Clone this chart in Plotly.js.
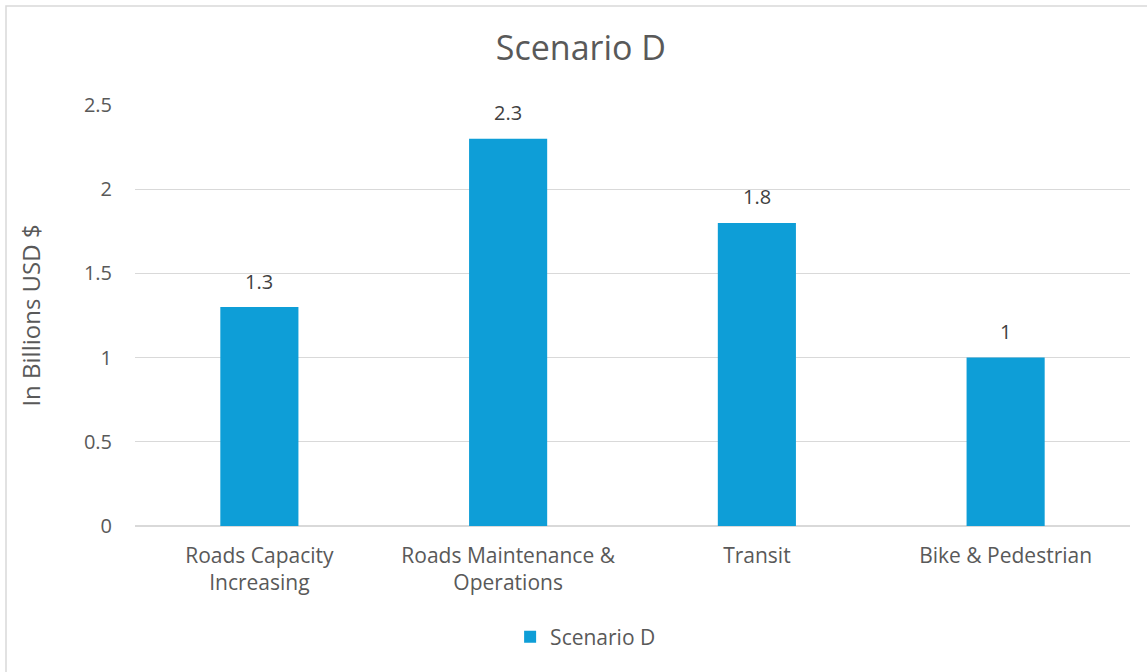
<!DOCTYPE html>
<html>
<head>
<meta charset="utf-8">
<script src="https://cdn.plot.ly/plotly-3.0.1.min.js"></script>
<style>html,body{margin:0;padding:0;background:#fff;}#chart{width:1147px;height:672px;}</style>
</head>
<body>
<div id="chart"></div>
<script>
const categories = ["Roads Capacity<br>Increasing", "Roads Maintenance &<br>Operations", "Transit", "Bike & Pedestrian"];
const scenarioD = [1.3, 2.3, 1.8, 1];
const valueLabels = ["1.3", "2.3", "1.8", "1"];
const tickVals = [0, 0.5, 1, 1.5, 2, 2.5];
const tickText = ["0", "0.5", "1", "1.5", "2", "2.5"];

const fontFam = "Open Sans, Inter, Liberation Sans, sans-serif";
const trace = {
  type: "bar",
  x: categories,
  y: scenarioD,
  name: "Scenario D",
  marker: {color: "#0E9ED7"},
  width: 0.314,
  hoverinfo: "x+y"
};
const labelAnnotations = categories.map((c, i) => ({
  x: c, y: scenarioD[i], xref: "x", yref: "y",
  text: valueLabels[i], showarrow: false,
  yanchor: "middle", yshift: 26,
  font: {family: fontFam, size: 20, color: "#404040"}
}));
const layout = {
  width: 1147, height: 672,
  margin: {l: 135, r: 17, t: 105, b: 146},
  paper_bgcolor: "#ffffff", plot_bgcolor: "#ffffff",
  font: {family: fontFam, color: "#595959", size: 20},
  title: {text: "Scenario D", xref: "container", x: 0.5065, xanchor: "center",
          yref: "container", y: 0.9286, yanchor: "middle",
          font: {family: fontFam, size: 34, color: "#595959"}},
  xaxis: {type: "category", showgrid: false, showline: false, zeroline: false,
          ticks: "", ticklabelstandoff: 15, tickfont: {size: 21, color: "#595959"}, automargin: false},
  yaxis: {range: [0, 2.5], tickvals: tickVals, ticktext: tickText, showgrid: true,
          gridcolor: "#d9d9d9", gridwidth: 1.3, zeroline: true, zerolinecolor: "#d9d9d9", zerolinewidth: 1.3,
          showline: false, ticks: "", ticklabelstandoff: 22,
          tickfont: {size: 20, color: "#595959"},
          title: {text: "In Billions USD $", font: {size: 24, color: "#595959"}, standoff: 36},
          automargin: false},
  showlegend: true,
  legend: {orientation: "h", x: 0.377, xanchor: "left", y: -0.264, yanchor: "middle",
           font: {size: 21, color: "#595959"}, itemwidth: 30},
  annotations: labelAnnotations,
  shapes: [{type: "rect", xref: "paper", yref: "paper",
            x0: (6 - 135) / 995, x1: 1.2, y0: -0.6, y1: (526 - 6) / 421,
            line: {color: "#d9d9d9", width: 1.5}, fillcolor: "rgba(0,0,0,0)", layer: "below"}]
};
Plotly.newPlot("chart", [trace], layout, {displayModeBar: false, staticPlot: true});
</script>
</body>
</html>
